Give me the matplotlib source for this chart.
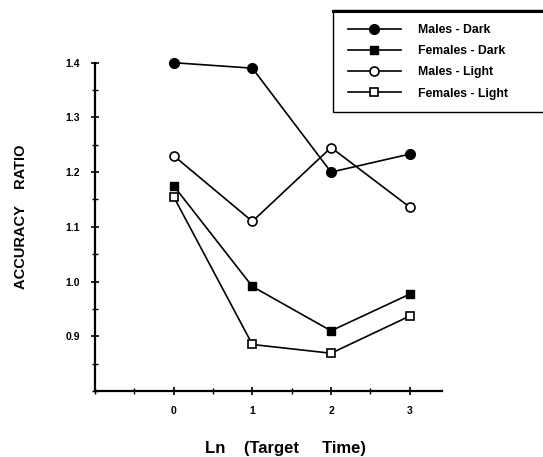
import matplotlib.pyplot as plt
from matplotlib.patches import Rectangle

plt.rcParams['font.family'] = ['Liberation Sans', 'DejaVu Sans']

# data
x = [0, 1, 2, 3]
males_dark = [1.40, 1.39, 1.20, 1.233]
females_dark = [1.175, 0.991, 0.910, 0.977]
males_light = [1.23, 1.11, 1.245, 1.136]
females_light = [1.155, 0.885, 0.869, 0.937]

series_names = ['Males - Dark', 'Females - Dark', 'Males - Light', 'Females - Light']

W, H = 543, 457
fig = plt.figure(figsize=(W / 100, H / 100), dpi=100)
ax = fig.add_axes([95 / W, 1 - 391 / H, (442 - 95) / W, (391 - 62.7) / H])

lw = 1.2
l1, = ax.plot(x, males_dark, '-', color='k', lw=lw, marker='o', ms=7, mfc='k', mec='k', clip_on=False)
l2, = ax.plot(x, females_dark, '-', color='k', lw=lw, marker='s', ms=6, mfc='k', mec='k', clip_on=False)
l3, = ax.plot(x, males_light, '-', color='k', lw=lw, marker='o', ms=6.5, mfc='white', mec='k', mew=1.2,
              clip_on=False)
l4, = ax.plot(x, females_light, '-', color='k', lw=lw, marker='s', ms=6, mfc='white', mec='k', mew=1.2,
              clip_on=False)

ax.set_xlim(-1, 3.41)
ax.set_ylim(0.8, 1.4)

ax.spines['right'].set_color('none')
ax.spines['top'].set_color('none')
ax.spines['left'].set_linewidth(1.6)
ax.spines['bottom'].set_linewidth(1.6)

ax.set_xticks([0, 1, 2, 3])
ax.set_xticks([-1, -0.5, 0.5, 1.5, 2.5], minor=True)
ax.set_yticks([0.9, 1.0, 1.1, 1.2, 1.3, 1.4])
ax.set_yticks([0.8, 0.85, 0.95, 1.05, 1.15, 1.25, 1.35], minor=True)
ax.tick_params(axis='both', which='major', direction='inout', length=6, width=1.2, labelsize=7.5, pad=8)
ax.tick_params(axis='both', which='minor', direction='inout', length=4, width=1.0)
ax.set_xticklabels(['0', '1', '2', '3'], fontweight='bold')
ax.set_yticklabels(['0.9', '1.0', '1.1', '1.2', '1.3', '1.4'], fontweight='bold')

fig.text(21.5 / W, 1 - 217 / H, 'ACCURACY    RATIO', rotation=90, ha='center', va='center',
         fontsize=10.5, fontweight='bold')
fig.text(205 / W, 1 - 448 / H, 'Ln    (Target     Time)', ha='left', va='center',
         fontsize=12, fontweight='bold')

# legend box (runs off the right edge like the scan)
fig.patches.append(Rectangle((333 / W, 1 - 112 / H), 240 / W, 102 / H, transform=fig.transFigure,
                             fill=False, edgecolor='k', lw=1.0))
fig.lines.append(plt.Line2D([333 / W, 1], [1 - 11 / H, 1 - 11 / H], transform=fig.transFigure,
                            color='k', lw=2.2))
fig.legend([l1, l2, l3, l4], series_names, loc='upper left', bbox_to_anchor=(348 / W, 1 - 24 / H),
           frameon=False, numpoints=1, handlelength=4.3, handletextpad=1.4, labelspacing=0.75,
           prop={'weight': 'bold', 'size': 8.8}, borderaxespad=0, borderpad=0)

fig.savefig('out.png', dpi=100)
